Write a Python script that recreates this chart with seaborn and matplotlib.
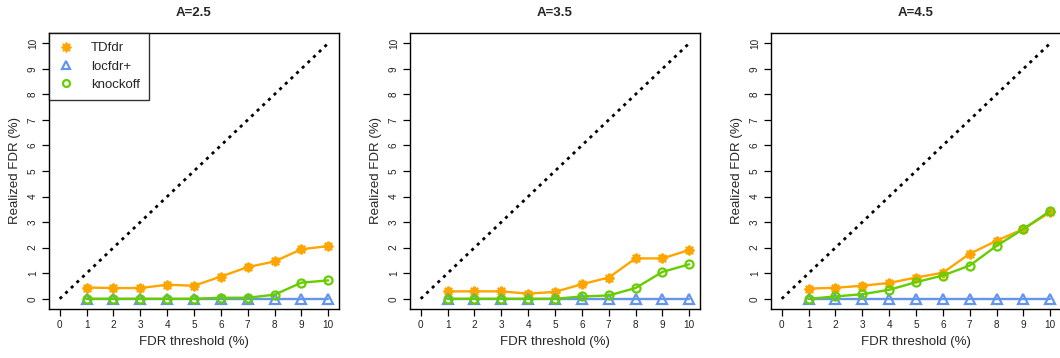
import numpy as np
import pandas as pd
import matplotlib
matplotlib.use("Agg")
import matplotlib.pyplot as plt
from matplotlib.lines import Line2D
import seaborn as sns

thresholds = [1, 2, 3, 4, 5, 6, 7, 8, 9, 10]
panel_titles = ["A=2.5", "A=3.5", "A=4.5"]
series_names = ["TDfdr", "locfdr+", "knockoff"]

tdfdr_25 = [0.44, 0.42, 0.42, 0.55, 0.51, 0.87, 1.24, 1.46, 1.94, 2.06]
locfdr_25 = [0, 0, 0, 0, 0, 0, 0, 0, 0, 0]
knockoff_25 = [0, 0, 0, 0, 0, 0.04, 0.04, 0.16, 0.63, 0.72]

tdfdr_35 = [0.29, 0.29, 0.29, 0.20, 0.27, 0.57, 0.83, 1.58, 1.58, 1.91]
locfdr_35 = [0, 0, 0, 0, 0, 0, 0, 0, 0, 0]
knockoff_35 = [0, 0, 0, 0, 0, 0.09, 0.13, 0.42, 1.05, 1.35]

tdfdr_45 = [0.40, 0.43, 0.51, 0.62, 0.83, 1.02, 1.76, 2.27, 2.73, 3.39]
locfdr_45 = [0, 0, 0, 0, 0, 0, 0, 0, 0, 0]
knockoff_45 = [0, 0.09, 0.18, 0.35, 0.65, 0.91, 1.30, 2.07, 2.73, 3.44]

diag = [0, 10]
ticks = [0, 1, 2, 3, 4, 5, 6, 7, 8, 9, 10]

panels = [
    (tdfdr_25, locfdr_25, knockoff_25),
    (tdfdr_35, locfdr_35, knockoff_35),
    (tdfdr_45, locfdr_45, knockoff_45),
]

colors = ["#FFA500", "#6495ED", "#66CD00"]
markers = [(8, 2, 0), "^", "o"]
msizes = [7, 7, 5.8]
leg_msizes = [7, 6, 5]
leg_mew = [1.3, 1.6, 1.6]

sns.set_theme(style="ticks")
plt.rcParams["font.family"] = ["Liberation Sans", "DejaVu Sans"]

fig = plt.figure(figsize=(10.6, 3.58), dpi=100)
lefts = [49 / 1060, 410 / 1060, 771 / 1060]
width = 290 / 1060
bottom = 1 - 309 / 358
height = (309 - 33) / 358

for i, (vals, title) in enumerate(zip(panels, panel_titles)):
    ax = fig.add_axes([lefts[i], bottom, width, height])
    sns.lineplot(x=diag, y=diag, ax=ax, color="black", linewidth=2,
                 linestyle=(0, (1.1, 1.7)))
    for j, v in enumerate(vals):
        df = pd.DataFrame({"x": thresholds, "y": v})
        sns.lineplot(data=df, x="x", y="y", ax=ax, color=colors[j],
                     linewidth=1.7, marker=markers[j], markersize=msizes[j],
                     markerfacecolor="none" if j > 0 else colors[j],
                     markeredgecolor=colors[j], markeredgewidth=1.6)
    ax.set_xlim(-0.4, 10.4)
    ax.set_ylim(-0.4, 10.4)
    ax.set_xticks(ticks)
    ax.set_yticks(ticks)
    ax.tick_params(axis="both", direction="out", length=5, width=0.9,
                   labelsize=7.2, colors="black", pad=3)
    ax.tick_params(axis="x", labelcolor="#222222")
    ax.tick_params(axis="y", labelcolor="#222222")
    for lab in ax.get_yticklabels():
        lab.set_rotation(90)
        lab.set_va("center")
    ax.set_xlabel("FDR threshold (%)", fontsize=9.5, labelpad=4)
    ax.set_ylabel("Realized FDR (%)", fontsize=9.5, labelpad=5)
    ax.set_title(title, fontsize=9.5, fontweight="bold", pad=12)
    for s in ax.spines.values():
        s.set_visible(True)
        s.set_color("black")
        s.set_linewidth(1.0)
    ax.grid(False)
    if i == 0:
        handles = [Line2D([], [], linestyle="none", marker=markers[k],
                          markersize=leg_msizes[k], color=colors[k],
                          markerfacecolor="none" if k > 0 else colors[k],
                          markeredgewidth=leg_mew[k]) for k in range(3)]
        leg = ax.legend(handles, series_names, loc="upper left",
                        bbox_to_anchor=(0, 1), borderaxespad=0,
                        fontsize=9.5, frameon=True, fancybox=False,
                        handlelength=1.2, handletextpad=1.3,
                        borderpad=0.7, labelspacing=0.45)
        leg.get_frame().set_edgecolor("black")
        leg.get_frame().set_linewidth(1.0)

fig.savefig("out.png", dpi=100)
